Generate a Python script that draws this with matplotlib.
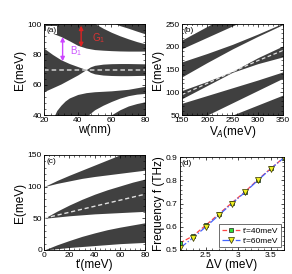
import matplotlib
matplotlib.use('Agg')
import matplotlib.pyplot as plt
from matplotlib.ticker import AutoMinorLocator, FormatStrFormatter

plt.rcParams['font.family'] = ['Liberation Sans', 'DejaVu Sans']
plt.rcParams['mathtext.fontset'] = 'custom'
plt.rcParams['mathtext.rm'] = 'Liberation Sans'

DARK = '#404040'

# ---- panel (a): E vs w ----
w_b1 = [20, 25, 30, 35, 40, 45, 47.5, 50, 55, 60, 65, 70, 75, 80]
b1_lo = [55.5, 58, 60.5, 63.5, 66.5, 70, 68.2, 67.2, 66.4, 66.1, 66, 66, 66.1, 66.2]
b1_hi = [84, 80, 76.5, 74, 72, 70, 71.8, 72.8, 73.6, 73.9, 74, 74, 73.9, 73.8]

w_b2 = [20, 25, 30, 35, 40, 45, 50, 55, 60, 65, 70, 75, 80]
b2_lo = [96.5, 94, 91.8, 89, 86, 84.2, 83.2, 82.8, 82.5, 82.3, 82.2, 82.2, 82.2]
b2_hi = [110, 110, 110, 110, 110, 110, 100.5, 97.3, 94.6, 92.3, 90.3, 88.5, 87]

w_b3 = [60, 65, 70, 75, 80]
b3_lo = [101.3, 99, 97.3, 95.4, 93.6]

w_d0 = [25, 27.5, 30, 32.5, 35, 40, 45, 50, 55, 60, 65, 70, 75, 80]
d0_hi = [37, 43, 46.5, 49.3, 51.3, 53.6, 54.8, 55.4, 55.7, 56, 56.5, 57, 58, 59]
d0_lo = [30, 30, 30, 30, 30, 30, 39, 43.5, 46.5, 49, 51.2, 52.8, 53.8, 54.3]

w_dm = [55, 60, 65, 70, 75, 80]
dm_hi = [34, 40.2, 43.5, 46, 47.6, 48.8]

E_dirac_a = 70

# ---- panel (b): E vs V_A ----
VA = [150, 200, 250, 300, 350]
s1_lo = [196, 221, 246, 271, 296]
s1_hi = [215, 245, 275, 305, 335]
s2_lo = [134, 165.5, 195.5, 223, 249]
s2_hi = [167, 185.5, 205.5, 228, 252]
s3_lo = [86, 115, 144, 163, 178]
s3_hi = [104, 124, 146, 176, 202]
s4_lo = [23, 50, 77, 104, 131]
s4_hi = [76, 93, 110, 127, 145]
s5_lo = [-50, -30, -10, 10, 30]
s5_hi = [6, 28, 50, 72, 94]
dirac_b = [95, 119.5, 145, 169.5, 192]

# ---- panel (c): E vs t' ----
tp = [0, 10, 20, 30, 40, 50, 60, 70, 80]
c0_lo = [0, 2, 4, 5.5, 7, 8.5, 10, 11, 12]
c0_hi = [0, 8, 15, 21.5, 27, 32, 36, 39.5, 43]
c1_lo = [50, 52, 54, 55.5, 57, 58, 59, 60, 61]
c1_hi = [50, 61, 71, 80, 88, 95, 101, 107, 112]
c2_lo = [100, 105, 109, 113, 116, 118.5, 121, 123.5, 126]
c2_hi = [100, 109.5, 118, 126, 134, 142, 150, 157, 164]
dirac_c = [50, 54.8, 59.5, 64.3, 69, 73.8, 78.5, 83.3, 88]

# ---- panel (d): frequency vs dV ----
dV = [2.1, 2.3, 2.5, 2.7, 2.9, 3.1, 3.3, 3.5, 3.7]
f_40 = [0.530, 0.560, 0.607, 0.655, 0.703, 0.750, 0.803, 0.851, 0.898]
f_60 = [0.508, 0.552, 0.600, 0.650, 0.700, 0.748, 0.800, 0.850, 0.897]


def style(ax, letter):
    ax.tick_params(which='both', direction='in', top=True, right=True,
                   labelsize=6, pad=1.5)
    ax.tick_params(which='major', length=2.5, width=0.5)
    ax.tick_params(which='minor', length=1.2, width=0.4)
    ax.xaxis.set_minor_locator(AutoMinorLocator(5))
    ax.yaxis.set_minor_locator(AutoMinorLocator(5))
    for s in ax.spines.values():
        s.set_linewidth(0.6)
    ax.text(0.02, 0.97, letter, transform=ax.transAxes, fontsize=6,
            va='top', ha='left', zorder=10,
            bbox=dict(facecolor='white', edgecolor='none', pad=0.3))


fig = plt.figure(figsize=(2.92, 2.74), dpi=100)

# (a)
ax = fig.add_axes([0.151, 0.580, 0.346, 0.332])
ax.fill_between(w_b1, b1_lo, b1_hi, color=DARK, lw=0)
ax.fill_between(w_b2, b2_lo, b2_hi, color=DARK, lw=0)
ax.fill_between(w_b3, b3_lo, [110] * len(w_b3), color=DARK, lw=0)
ax.fill_between(w_d0, d0_lo, d0_hi, color=DARK, lw=0)
ax.fill_between(w_dm, [30] * len(w_dm), dm_hi, color=DARK, lw=0)
ax.axhline(E_dirac_a, color='#d0d0d0', lw=1.1, dashes=(3, 2))
ax.annotate('', xy=(31, 91.5), xytext=(31, 75.5),
            arrowprops=dict(arrowstyle='<|-|>', color='#cc44ff', lw=1.0,
                            mutation_scale=6, shrinkA=0, shrinkB=0))
ax.annotate('', xy=(42, 99), xytext=(42, 84.8),
            arrowprops=dict(arrowstyle='<|-|>', color='#dd2222', lw=1.0,
                            mutation_scale=6, shrinkA=0, shrinkB=0))
ax.text(35.5, 82, 'B$_1$', color='#cc55ff', fontsize=7, va='center')
ax.text(48.5, 91, 'G$_1$', color='#dd3333', fontsize=7, va='center')
ax.set_xlim(20, 80)
ax.set_ylim(40, 100)
ax.set_xticks([20, 40, 60, 80])
ax.set_yticks([40, 60, 80, 100])
ax.set_xlabel('w(nm)', fontsize=8.5, labelpad=0)
ax.set_ylabel('E(meV)', fontsize=8.5, labelpad=1)
style(ax, '(a)')

# (b)
ax = fig.add_axes([0.623, 0.580, 0.346, 0.332])
for lo, hi in [(s1_lo, s1_hi), (s2_lo, s2_hi), (s3_lo, s3_hi),
               (s4_lo, s4_hi), (s5_lo, s5_hi)]:
    ax.fill_between(VA, lo, hi, color=DARK, lw=0)
ax.plot(VA, dirac_b, color='#e0e0e0', lw=0.9, dashes=(3, 2))
ax.set_xlim(150, 350)
ax.set_ylim(50, 250)
ax.set_xticks([150, 200, 250, 300, 350])
ax.set_yticks([50, 100, 150, 200, 250])
ax.set_xlabel('V$_A$(meV)', fontsize=8.5, labelpad=0)
ax.set_ylabel('E(meV)', fontsize=8.5, labelpad=1)
style(ax, '(b)')

# (c)
ax = fig.add_axes([0.151, 0.0876, 0.346, 0.347])
for lo, hi in [(c0_lo, c0_hi), (c1_lo, c1_hi), (c2_lo, c2_hi)]:
    ax.fill_between(tp, lo, hi, color=DARK, lw=0)
ax.plot(tp, dirac_c, color='#e0e0e0', lw=1.0, dashes=(3, 2))
ax.set_xlim(0, 80)
ax.set_ylim(0, 150)
ax.set_xticks([0, 20, 40, 60, 80])
ax.set_yticks([0, 50, 100, 150])
ax.set_xlabel("t'(meV)", fontsize=8.5, labelpad=0)
ax.set_ylabel('E(meV)', fontsize=8.5, labelpad=1)
style(ax, '(c)')

# (d)
ax = fig.add_axes([0.616, 0.0876, 0.356, 0.339])
ax.plot(dV, f_40, color='#ff4444', lw=0.9, ls='--', marker='s', ms=3.5,
        mfc='#33dd33', mec='#222222', mew=0.5, label="t'=40meV")
ax.plot(dV, f_60, color='#4466ff', lw=0.9, ls='-.', marker='v', ms=4,
        mfc='#eeee22', mec='#333300', mew=0.5, label="t'=60meV")
ax.set_xlim(2.1, 3.7)
ax.set_ylim(0.5, 0.9)
ax.set_xticks([2.5, 3, 3.5])
ax.set_yticks([0.5, 0.6, 0.7, 0.8, 0.9])
ax.xaxis.set_major_formatter(FormatStrFormatter('%g'))
ax.set_xlabel('ΔV (meV)', fontsize=8.5, labelpad=0)
ax.set_ylabel('Frequency f (THz)', fontsize=8.5, labelpad=1)
style(ax, '(d)')
leg = ax.legend(loc='lower right', fontsize=6, frameon=True, fancybox=False,
                borderpad=0.3, handlelength=2.2, handletextpad=0.4,
                labelspacing=0.3, borderaxespad=0.3)
leg.get_frame().set_edgecolor('black')
leg.get_frame().set_linewidth(0.5)

fig.savefig('out.png', dpi=100)
